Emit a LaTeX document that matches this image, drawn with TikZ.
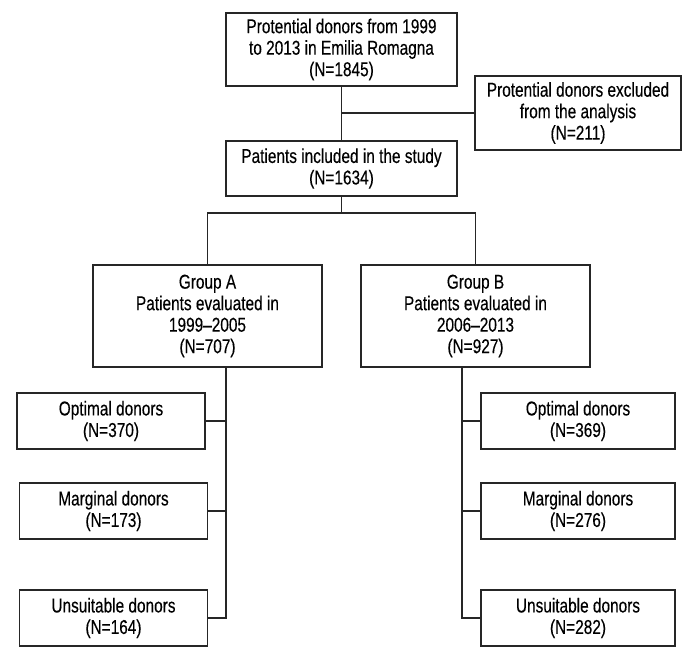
\documentclass[tikz,border=0pt]{standalone}
\usepackage{fontspec}
\setmainfont[FakeStretch=0.77,FakeBold=0.3]{Liberation Sans}
\begin{document}
\begin{tikzpicture}[x=1pt,y=-1pt,line width=1.4pt,draw=black!85,
  box/.style={draw,align=center,inner sep=0pt,font=\fontsize{20}{21.5}\selectfont},
  boxW/.style={box,minimum width=231pt},
  boxG/.style={box,minimum width=229pt,minimum height=102pt},
  boxS/.style={box,minimum width=188pt,minimum height=56pt},
  boxR/.style={box,minimum width=194pt,minimum height=56pt}]
\useasboundingbox (0,0) rectangle (700,660);
\def\ya{421};
\def\yb{511};
\def\yc{618};

\node[boxW,minimum height=73pt] (top) at (341.5,49.5) {Protential donors from 1999\\to 2013 in Emilia Romagna\\(N=1845)};
\node[box,minimum width=206pt,minimum height=74pt] (excl) at (578,113) {Protential donors excluded\\from the analysis\\(N=211)};
\node[boxW,minimum height=55pt] (incl) at (341.5,168.5) {Patients included in the study\\(N=1634)};
\draw (top.south) -- (incl.north);
\draw (top.south |- excl.west) -- (excl.west);

\node[boxG] (grpA) at (207.5,316) {Group A\\Patients evaluated in\\1999--2005\\(N=707)};
\node[boxG] (grpB) at (475.5,316) {Group B\\Patients evaluated in\\2006--2013\\(N=927)};
\coordinate (split) at (341.5,213);
\draw (incl.south) -- (split);
\draw (grpA.north) |- (split) -| (grpB.north);

\node[boxS] (optA) at (111,\ya) {Optimal donors\\(N=370)};
\node[boxS] (margA) at (113.5,\yb) {Marginal donors\\(N=173)};
\node[boxS] (unsA) at (113.5,\yc) {Unsuitable donors\\(N=164)};
\coordinate (spA) at (226,367);
\draw (spA) |- (unsA.east);
\draw (optA.east) -- (optA.east -| spA);
\draw (margA.east) -- (margA.east -| spA);

\node[boxR] (optB) at (578,\ya) {Optimal donors\\(N=369)};
\node[boxR] (margB) at (578,\yb) {Marginal donors\\(N=276)};
\node[boxR] (unsB) at (578,\yc) {Unsuitable donors\\(N=282)};
\coordinate (spB) at (462,367);
\draw (spB) |- (unsB.west);
\draw (optB.west) -- (optB.west -| spB);
\draw (margB.west) -- (margB.west -| spB);
\end{tikzpicture}
\end{document}
